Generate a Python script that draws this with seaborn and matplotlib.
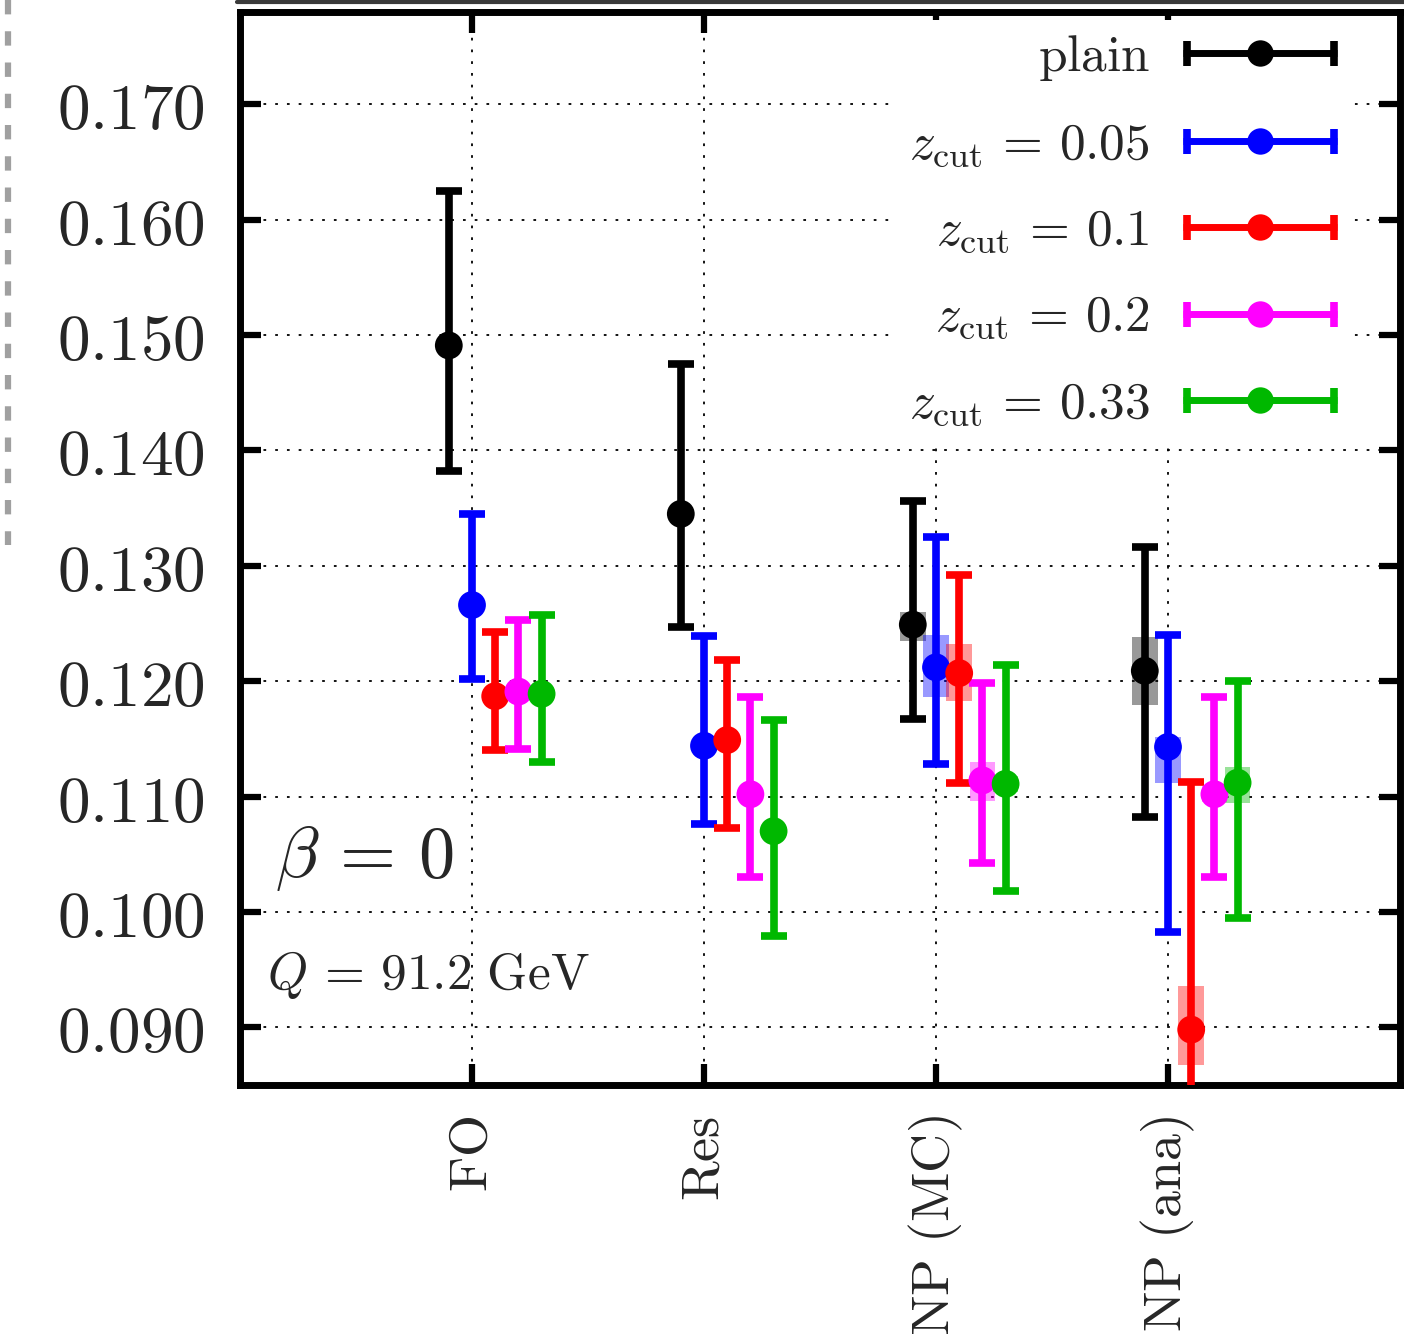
import numpy as np
import pandas as pd
import matplotlib
matplotlib.use("Agg")
import matplotlib.pyplot as plt
import seaborn as sns
from matplotlib.lines import Line2D
from matplotlib.legend_handler import HandlerBase

# ---------------- data ----------------
categories = [r"$\mathrm{FO}$", r"$\mathrm{Res}$", r"$\mathrm{NP\ (MC)}$", r"$\mathrm{NP\ (ana)}$"]
series = ["plain", "z005", "z01", "z02", "z033"]
series_labels = [r"$\mathrm{plain}$", r"$z_{\mathrm{cut}}\,=\,0.05$", r"$z_{\mathrm{cut}}\,=\,0.1$",
                 r"$z_{\mathrm{cut}}\,=\,0.2$", r"$z_{\mathrm{cut}}\,=\,0.33$"]
colors = ["#000000", "#0000ff", "#ff0000", "#ff00ff", "#00b800"]

plain_c  = [0.1491, 0.1345, 0.1249, 0.1209]
plain_lo = [0.1382, 0.1247, 0.1167, 0.1082]
plain_hi = [0.1625, 0.1475, 0.1356, 0.1316]

z005_c  = [0.1266, 0.1144, 0.1212, 0.1143]
z005_lo = [0.1202, 0.1076, 0.1128, 0.0983]
z005_hi = [0.1345, 0.1239, 0.1325, 0.1240]

z01_c  = [0.1187, 0.1149, 0.1207, 0.0898]
z01_lo = [0.1140, 0.1073, 0.1112, 0.0780]
z01_hi = [0.1243, 0.1218, 0.1292, 0.1113]

z02_c  = [0.1191, 0.1102, 0.1114, 0.1102]
z02_lo = [0.1141, 0.1030, 0.1042, 0.1030]
z02_hi = [0.1253, 0.1186, 0.1198, 0.1186]

z033_c  = [0.1189, 0.1070, 0.1111, 0.1112]
z033_lo = [0.1130, 0.0979, 0.1018, 0.0995]
z033_hi = [0.1257, 0.1166, 0.1214, 0.1200]

# shaded (NP) bands, NaN where absent
nan = np.nan
plain_blo = [nan, nan, 0.1235, 0.1179]
plain_bhi = [nan, nan, 0.1260, 0.1238]
z005_blo = [nan, nan, 0.1186, 0.1112]
z005_bhi = [nan, nan, 0.1240, 0.1152]
z01_blo = [nan, nan, 0.1183, 0.0867]
z01_bhi = [nan, nan, 0.1232, 0.0936]
z02_blo = [nan, nan, 0.1096, 0.1095]
z02_bhi = [nan, nan, 0.1130, 0.1109]
z033_blo = [nan, nan, 0.1104, 0.1094]
z033_bhi = [nan, nan, 0.1118, 0.1126]

yticks = [0.090, 0.100, 0.110, 0.120, 0.130, 0.140, 0.150, 0.160, 0.170]
ytick_labels = [r"$%.3f$" % v for v in yticks]

centers = [plain_c, z005_c, z01_c, z02_c, z033_c]
lows = [plain_lo, z005_lo, z01_lo, z02_lo, z033_lo]
highs = [plain_hi, z005_hi, z01_hi, z02_hi, z033_hi]
blows = [plain_blo, z005_blo, z01_blo, z02_blo, z033_blo]
bhighs = [plain_bhi, z005_bhi, z01_bhi, z02_bhi, z033_bhi]

offsets = [-0.1, 0.0, 0.1, 0.2, 0.3]

rows = []
for s, off, c, lo, hi, blo, bhi in zip(series, offsets, centers, lows, highs, blows, bhighs):
    for i in range(len(categories)):
        rows.append(dict(series=s, x=i + off, y=c[i], lo=lo[i], hi=hi[i], blo=blo[i], bhi=bhi[i]))
df = pd.DataFrame(rows)

# ---------------- style ----------------
sns.set_theme(style="ticks")
plt.rcParams.update({
    "mathtext.fontset": "cm",
    "font.family": ["DejaVu Serif", "DejaVu Sans"],
    "axes.linewidth": 5,
})

fig = plt.figure(figsize=(14.04, 13.34), dpi=100)
ax = fig.add_axes([240 / 1404, 1 - 1085 / 1334, 1160 / 1404, 1073 / 1334])

palette = dict(zip(series, colors))

# bands
for s in series:
    d = df[(df.series == s) & df.blo.notna()]
    ax.bar(d.x, d.bhi - d.blo, bottom=d.blo, width=0.11, color=palette[s], alpha=0.4,
           linewidth=0, zorder=2)

# error bars
for s in series:
    d = df[df.series == s]
    ax.errorbar(d.x, d.y, yerr=[d.y - d.lo, d.hi - d.y], fmt="none", ecolor=palette[s],
                elinewidth=5.5, capsize=9.4, capthick=5.5, zorder=3)

# central points
sns.scatterplot(data=df, x="x", y="y", hue="series", palette=palette, s=400,
                edgecolor="none", linewidth=0, legend=False, ax=ax, zorder=4)

ax.set_xlim(-1, 4)
ax.set_ylim(0.085, 0.178)
ax.set_xlabel("")
ax.set_ylabel("")
ax.set_yticks(yticks)
ax.set_yticklabels(ytick_labels)
ax.set_xticks(range(len(categories)))
ax.set_xticklabels(categories, rotation=90, va="top", ha="center")

ax.grid(True, color="black", linestyle=(0, (1.5, 5)), linewidth=1.3, zorder=0)
ax.set_axisbelow(True)
for sp in ax.spines.values():
    sp.set_visible(True)
    sp.set_linewidth(5)
    sp.set_color("black")

ax.tick_params(direction="in", length=15, width=4.5, top=True, right=True, color="black")
ax.tick_params(axis="y", labelsize=47, pad=25)
ax.tick_params(axis="x", labelsize=39, pad=22)

# annotations
ax.text(-0.85, 0.1047, r"$\beta\,=\,0$", fontsize=52, va="center", ha="left")
ax.text(-0.885, 0.0945, r"$Q\,=\,91.2\ \mathrm{GeV}$", fontsize=37, va="center", ha="left")


# legend with horizontal error-bar handles
class HErr(HandlerBase):
    def create_artists(self, legend, orig, xdescent, ydescent, width, height, fontsize, trans):
        c = orig.get_color()
        y = height / 2 - ydescent
        x0, x1 = -xdescent, -xdescent + width
        base = Line2D([x0, x1], [y, y], color=c, lw=5, solid_capstyle="butt")
        caps = Line2D([x0 + 2.5, x1 - 2.5], [y, y], color=c, ls="none", marker="|",
                      markersize=18, markeredgewidth=5.5)
        dot = Line2D([(x0 + x1) / 2], [y], color=c, ls="none", marker="o", markersize=19,
                     markeredgewidth=0)
        for a in (base, caps, dot):
            a.set_transform(trans)
        return [base, caps, dot]


handles = [Line2D([], [], color=c) for c in colors]
leg = ax.legend(handles, series_labels, handler_map={Line2D: HErr()},
                loc="upper right", bbox_to_anchor=(0.957, 0.9925), borderaxespad=0,
                markerfirst=False, frameon=True, facecolor="white", edgecolor="none",
                framealpha=1, fancybox=False, fontsize=37, handlelength=3.0,
                handletextpad=0.65, labelspacing=0.72, borderpad=0.25)
leg.set_zorder(5)

# page artefacts around the crop
fig.add_artist(Line2D([237 / 1404, 1], [1 - 1.5 / 1334] * 2, color="#3a3a3a", lw=3,
                      transform=fig.transFigure))
fig.add_artist(Line2D([8 / 1404] * 2, [1, 1 - 545 / 1334], color="#a0a0a0", lw=4.5,
                      linestyle=(0, (2.3, 2.7)), transform=fig.transFigure))

fig.savefig("out.png", dpi=100)
